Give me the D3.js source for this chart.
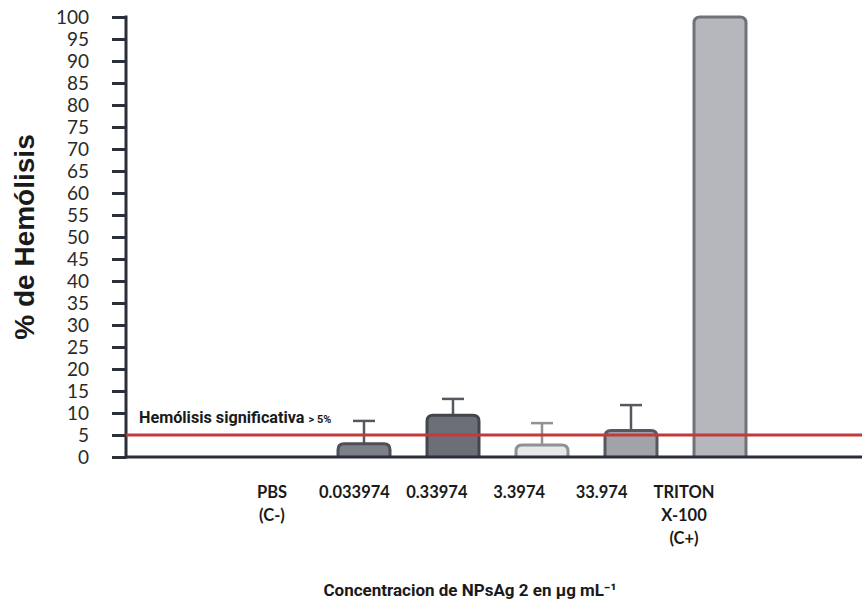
<!DOCTYPE html>
<html>
<head>
<meta charset="utf-8">
<script src="https://cdn.jsdelivr.net/npm/d3@7"></script>
<style>
  body { margin: 0; background: #fff; }
</style>
</head>
<body>
<div id="chart"></div>
<script>
// data
var categories = ["PBS", "0.033974", "0.33974", "3.3974", "33.974", "TRITON"];
var labelLines = [["PBS", "(C-)"], ["0.033974"], ["0.33974"], ["3.3974"], ["33.974"], ["TRITON", "X-100", "(C+)"]];
var values = [0, 3, 9.5, 2.7, 6, 100];
var errors = [0, 5.2, 3.7, 5, 5.8, 0];
var fills = ["none", "#7c7f87", "#6c6f77", "#e6e8ea", "#a1a3a9", "#b5b7bd"];
var strokes = ["none", "#4c4f56", "#43464d", "#8e9196", "#55585f", "#707277"];
var yTicks = d3.range(0, 101, 5);
var threshold = 5;

function init(){
	var w = 862;
	var h = 609;
	var barW = 52;

	var svg = d3.select("#chart")
		.append("svg")
		.attr("width", w)
		.attr("height", h);

	var yScale = d3.scaleLinear()
		.domain([0, 100])
		.range([457, 17]);

	var xScale = d3.scalePoint()
		.domain(categories)
		.range([275, 720]);

	// tick labels sit a little left of the bars in the original
	var labelScale = d3.scalePoint()
		.domain(categories)
		.range([272, 684]);

	// y axis
	var yAxis = d3.axisLeft(yScale)
		.tickValues(yTicks)
		.tickSize(14)
		.tickPadding(23);

	var gy = svg.append("g")
		.attr("transform", "translate(126,0)")
		.call(yAxis);
	gy.select(".domain")
		.attr("d", "M0," + (yScale(100) - 1.5) + "V" + (yScale(0) + 1.5))
		.attr("stroke", "#2b2f38")
		.attr("stroke-width", 3);
	gy.selectAll(".tick line")
		.attr("stroke", "#2b2f38")
		.attr("stroke-width", 3);
	gy.selectAll(".tick text")
		.attr("font-family", "Lato")
		.attr("font-size", 19)
		.attr("fill", "#2a2a2a");

	// bars
	var data = categories.map(function(c, i){
		return {cat: c, v: values[i], e: errors[i], fill: fills[i], stroke: strokes[i]};
	}).filter(function(d){ return d.v > 0; });

	function barPath(d){
		var x0 = xScale(d.cat) - barW / 2;
		var x1 = x0 + barW;
		var y0 = yScale(0);
		var y1 = yScale(d.v);
		var r = Math.min(6, (y0 - y1));
		return "M" + x0 + "," + y0 +
			"V" + (y1 + r) +
			"Q" + x0 + "," + y1 + " " + (x0 + r) + "," + y1 +
			"H" + (x1 - r) +
			"Q" + x1 + "," + y1 + " " + x1 + "," + (y1 + r) +
			"V" + y0;
	}

	// error bars (upper whisker only)
	svg.selectAll("line.err")
		.data(data.filter(function(d){ return d.e > 0; }))
		.enter()
		.append("line")
		.attr("class", "err")
		.attr("x1", function(d){ return xScale(d.cat); })
		.attr("x2", function(d){ return xScale(d.cat); })
		.attr("y1", function(d){ return yScale(d.v); })
		.attr("y2", function(d){ return yScale(d.v + d.e); })
		.attr("stroke", function(d){ return d.cat == "3.3974" ? "#8e9196" : "#55585f"; })
		.attr("stroke-width", 2.5);

	svg.selectAll("line.cap")
		.data(data.filter(function(d){ return d.e > 0; }))
		.enter()
		.append("line")
		.attr("class", "cap")
		.attr("x1", function(d){ return xScale(d.cat) - 11; })
		.attr("x2", function(d){ return xScale(d.cat) + 11; })
		.attr("y1", function(d){ return yScale(d.v + d.e); })
		.attr("y2", function(d){ return yScale(d.v + d.e); })
		.attr("stroke", function(d){ return d.cat == "3.3974" ? "#8e9196" : "#55585f"; })
		.attr("stroke-width", 2.5);

	svg.selectAll("path.bar")
		.data(data)
		.enter()
		.append("path")
		.attr("class", "bar")
		.attr("d", barPath)
		.attr("fill", function(d){ return d.fill; })
		.attr("stroke", function(d){ return d.stroke; })
		.attr("stroke-width", 3);

	// x axis line
	svg.append("line")
		.attr("x1", 126)
		.attr("x2", w)
		.attr("y1", yScale(0))
		.attr("y2", yScale(0))
		.attr("stroke", "#2b2f38")
		.attr("stroke-width", 3);

	// threshold line
	svg.append("line")
		.attr("x1", 126)
		.attr("x2", w)
		.attr("y1", yScale(threshold))
		.attr("y2", yScale(threshold))
		.attr("stroke", "#c13a3c")
		.attr("stroke-width", 3);

	var note = svg.append("text")
		.attr("x", 139)
		.attr("y", yScale(threshold) - 12)
		.attr("font-family", "Roboto")
		.attr("font-weight", "bold")
		.attr("fill", "#1a1a1a");
	note.append("tspan")
		.attr("font-size", 16.2)
		.text("Hemólisis significativa");
	note.append("tspan")
		.attr("font-size", 11)
		.attr("dx", 4)
		.text("> 5%");

	// category labels
	var lbl = svg.selectAll("text.cat")
		.data(categories)
		.enter()
		.append("text")
		.attr("class", "cat")
		.attr("x", function(d){ return labelScale(d); })
		.attr("y", 498)
		.attr("text-anchor", "middle")
		.attr("font-family", "Lato")
		.attr("font-weight", "bold")
		.attr("font-size", 16.5)
		.attr("fill", "#1a1a1a");
	lbl.selectAll("tspan")
		.data(function(d, i){ return labelLines[i]; })
		.enter()
		.append("tspan")
		.attr("x", function(){ return labelScale(d3.select(this.parentNode).datum()); })
		.attr("dy", function(d, i){ return i == 0 ? 0 : 23; })
		.text(function(d){ return d; });

	// axis titles
	svg.append("text")
		.attr("transform", "translate(24,237) rotate(-90)")
		.attr("text-anchor", "middle")
		.attr("dy", "0.36em")
		.attr("font-family", "Liberation Sans")
		.attr("font-weight", "bold")
		.attr("font-size", 28)
		.attr("fill", "#1a1a1a")
		.text("% de Hemólisis");

	svg.append("text")
		.attr("x", 470)
		.attr("y", 596)
		.attr("text-anchor", "middle")
		.attr("font-family", "Roboto")
		.attr("font-weight", "bold")
		.attr("font-size", 17)
		.attr("fill", "#1a1a1a")
		.text("Concentracion de NPsAg 2 en μg mL⁻¹");
}

window.onload = init;
</script>
</body>
</html>
